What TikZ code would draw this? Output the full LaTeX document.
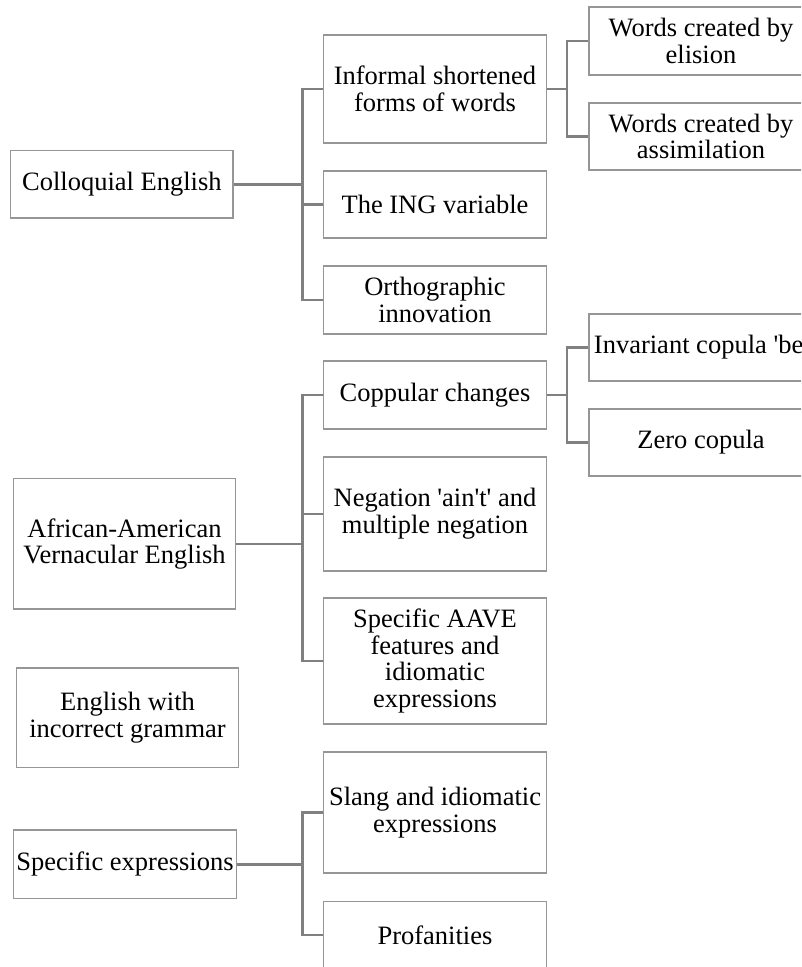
\documentclass[tikz,border=0pt]{standalone}
\usepackage{fontspec}
\setmainfont{Liberation Serif}
\definecolor{boxgray}{RGB}{150,150,150}
\definecolor{linegray}{RGB}{128,128,128}
\tikzset{
  tbox/.style={draw=boxgray, line width=1.3pt, fill=white, rectangle, inner sep=0pt,
    align=center, font=\fontsize{26.5}{26.7}\selectfont},
  conn/.style={draw=linegray, line width=2.8pt},
}
\newcommand{\bx}[6]{\node[tbox, minimum width=#4pt, minimum height=#5pt] (#1) at (#2,#3) {#6};}
\newcommand{\sq}{\textquotesingle}
\begin{document}
\begin{tikzpicture}[x=1pt,y=-1pt]
\useasboundingbox (0,0) rectangle (801,967);
\clip (0,0) rectangle (801,967);
\fill[white] (0,0) rectangle (801,967);
% left column
\bx{ce}{121.9}{184.3}{222.3}{67.3}{Colloquial English}
\bx{aave}{124.5}{543.9}{222.4}{130.3}{African-American\\Vernacular English}
\bx{eig}{127.5}{717.8}{221.6}{99.7}{English with\\incorrect grammar}
\bx{se}{125}{864.2}{223.4}{68.3}{Specific expressions}
% middle column
\bx{inf}{435}{89}{223.4}{108}{Informal shortened\\forms of words}
\bx{ing}{435}{204.5}{223.4}{67}{The ING variable}
\bx{orth}{435}{300}{223.4}{68}{Orthographic\\innovation}
\bx{cop}{435}{395}{223.4}{68}{Coppular changes}
\bx{neg}{435}{514}{223.4}{114}{Negation \sq ain\sq t\sq{} and\\multiple negation}
\bx{spec}{435}{661}{223.4}{126}{Specific AAVE\\features and\\idiomatic\\expressions}
\bx{slang}{435}{812.5}{223.4}{121}{Slang and idiomatic\\expressions}
\bx{prof}{435}{935}{223.4}{67}{Profanities}
% right column
\bx{eli}{701}{41}{224}{68}{Words created by\\elision}
\bx{ass}{701}{136.5}{224}{67}{Words created by\\assimilation}
\bx{inv}{701}{347.5}{224}{67}{Invariant copula \sq be\sq}
\bx{zero}{701}{442.5}{224}{67}{Zero copula}
% bus coordinates
\coordinate (b1) at (302.5,0);
\coordinate (b2) at (567,0);
% Colloquial English
\draw[conn] (ce.east) -- (ce.east -| b1);
\draw[conn] (inf.west) -- (inf.west -| b1) -- (orth.west -| b1) -- (orth.west);
\draw[conn] (ing.west) -- (ing.west -| b1);
% Informal forms
\draw[conn] (inf.east) -- (inf.east -| b2);
\draw[conn] (eli.west) -- (eli.west -| b2) -- (ass.west -| b2) -- (ass.west);
% AAVE
\draw[conn] (aave.east) -- (aave.east -| b1);
\draw[conn] (cop.west) -- (cop.west -| b1) -- (spec.west -| b1) -- (spec.west);
\draw[conn] (neg.west) -- (neg.west -| b1);
% Coppular changes
\draw[conn] (cop.east) -- (cop.east -| b2);
\draw[conn] (inv.west) -- (inv.west -| b2) -- (zero.west -| b2) -- (zero.west);
% Specific expressions
\draw[conn] (se.east) -- (se.east -| b1);
\draw[conn] (slang.west) -- (slang.west -| b1) -- (prof.west -| b1) -- (prof.west);
\end{tikzpicture}
\end{document}
